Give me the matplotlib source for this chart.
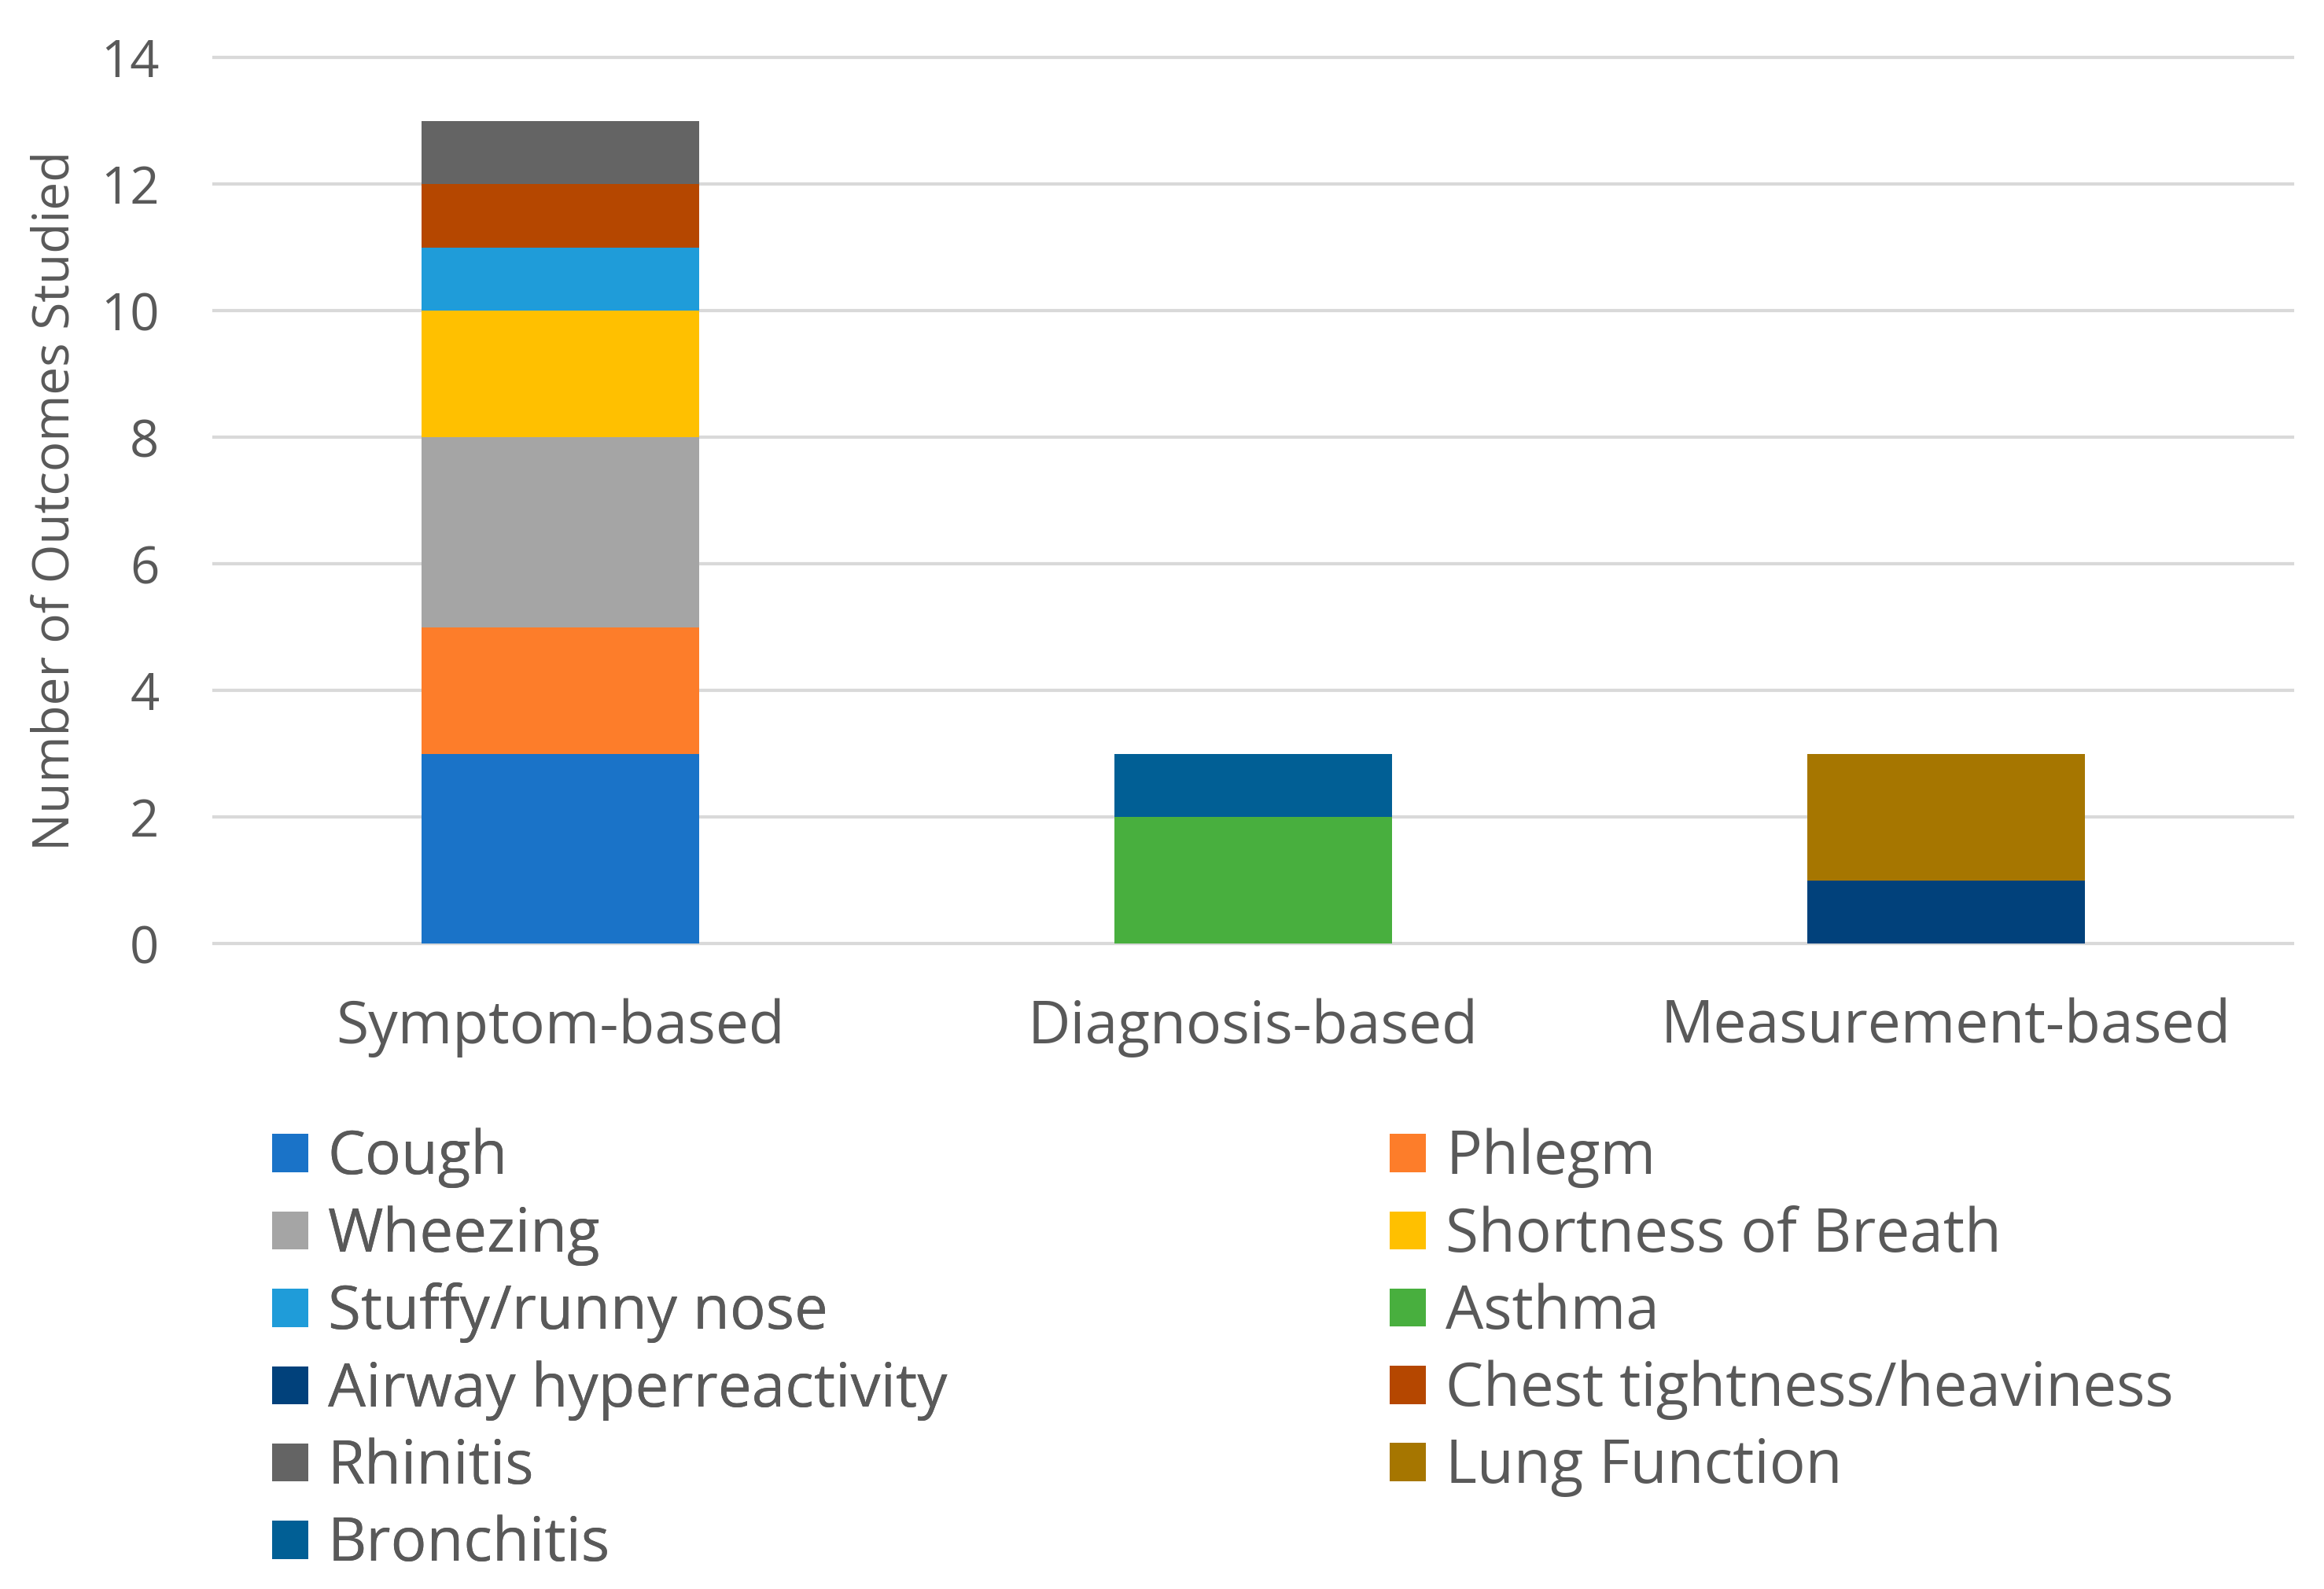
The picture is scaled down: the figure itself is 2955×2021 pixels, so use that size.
import matplotlib
matplotlib.use('Agg')
import matplotlib.pyplot as plt
from matplotlib.patches import Patch
import numpy as np

plt.rcParams['font.family'] = ['Open Sans', 'DejaVu Sans']

# ---------------------------------------------------------------------------
# Data
# ---------------------------------------------------------------------------
categories = ["Symptom-based", "Diagnosis-based", "Measurement-based"]

series_names = [
    "Cough", "Phlegm", "Wheezing", "Shortness of Breath", "Stuffy/runny nose",
    "Asthma", "Airway hyperreactivity", "Chest tightness/heaviness",
    "Rhinitis", "Lung Function", "Bronchitis",
]
cough = [3, 0, 0]
phlegm = [2, 0, 0]
wheezing = [3, 0, 0]
shortness_of_breath = [2, 0, 0]
stuffy_nose = [1, 0, 0]
asthma = [0, 2, 0]
airway_hyper = [0, 0, 1]
chest_tightness = [1, 0, 0]
rhinitis = [1, 0, 0]
lung_function = [0, 0, 2]
bronchitis = [0, 1, 0]

series_values = [
    cough, phlegm, wheezing, shortness_of_breath, stuffy_nose, asthma,
    airway_hyper, chest_tightness, rhinitis, lung_function, bronchitis,
]
series_colors = [
    "#1A73C8", "#FD7D2A", "#A5A5A5", "#FFC000", "#1F9CD9", "#48AF3E",
    "#01417B", "#B54700", "#646464", "#A67600", "#015F95",
]

TEXT = "#595959"
GRID = "#D9D9D9"

fig = plt.figure(figsize=(29.55, 20.21), dpi=100)
ax = fig.add_axes([0.0920, 0.4062, 0.8944, 0.5576])

x = np.arange(len(categories))
bottom = np.zeros(len(categories))
handles = []
for name, vals, col in zip(series_names, series_values, series_colors):
    vals = np.array(vals, dtype=float)
    ax.bar(x, vals, width=0.4, bottom=bottom, color=col, zorder=3)
    bottom += vals
    handles.append(Patch(facecolor=col, label=name))

ax.set_xlim(-0.5, 2.5)
ax.set_ylim(0, 14)
ax.set_yticks(range(0, 15, 2))
ax.set_xticks(x)
ax.set_xticklabels(categories)
for s in ax.spines.values():
    s.set_visible(False)
ax.grid(axis='y', color=GRID, linewidth=3, zorder=0)
for gl in ax.get_ygridlines():
    gl.set_clip_on(False)
ax.tick_params(axis='both', length=0, colors=TEXT)
ax.tick_params(axis='y', labelsize=47, pad=50)
ax.tick_params(axis='x', labelsize=54, pad=50)
ax.set_ylabel("Number of Outcomes Studied", fontsize=46, color=TEXT)
ax.yaxis.set_label_coords(-0.064, 0.5)

# legend: row-major order in two columns -> two separate legends
left_items = handles[0::2]
right_items = handles[1::2]
kw = dict(frameon=False, fontsize=55, handlelength=0.6, handleheight=0.6,
          handletextpad=0.33, labelspacing=0.285, labelcolor=TEXT,
          borderaxespad=0, borderpad=0)
leg1 = fig.legend(handles=left_items, loc='upper left',
                  bbox_to_anchor=(0.117, 0.290), **kw)
fig.add_artist(leg1)
fig.legend(handles=right_items, loc='upper left',
           bbox_to_anchor=(0.598, 0.290), **kw)

fig.savefig("out.png", dpi=100)
